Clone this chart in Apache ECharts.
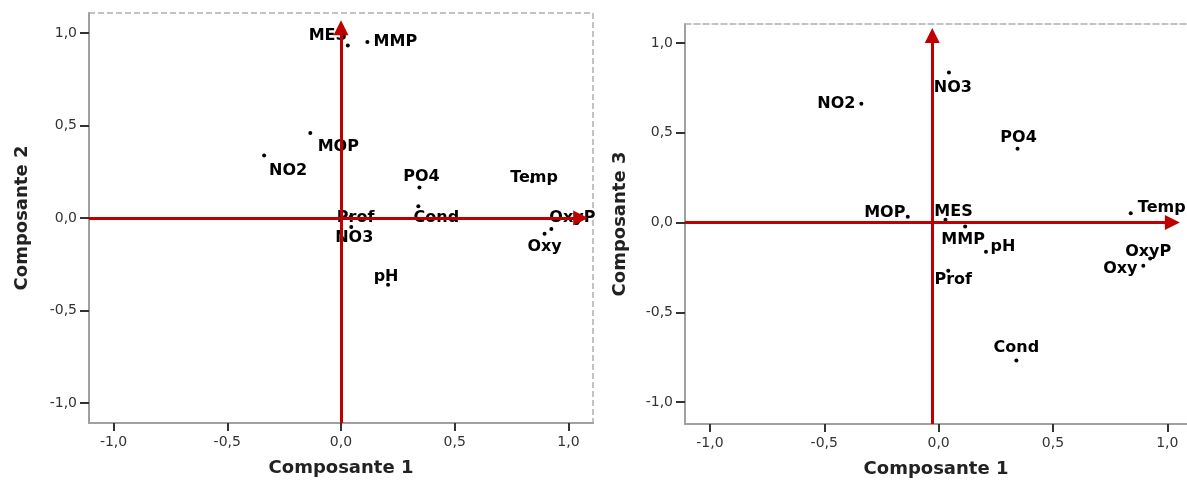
<!DOCTYPE html>
<html lang="fr">
<head>
    <meta charset="UTF-8">
    <title>Diagramme des composantes</title>
    <script src="https://cdn.jsdelivr.net/npm/echarts@6/dist/echarts.min.js"></script>
    <style type="text/css">
        html, body{
            margin:0;
            padding:0;
            background:#ffffff;
        }
        #main{
            width:1187px;
            height:480px;
        }
    </style>
</head>
<body>
<div id="main"></div>
</body>
<script>

    // variables and loadings on components 1, 2, 3
    var varNames = ['MES', 'MMP', 'MOP', 'NO2', 'PO4', 'Cond', 'Temp', 'OxyP', 'Oxy', 'NO3', 'Prof', 'pH'];
    var comp1 = [0.030, 0.116, -0.135, -0.338, 0.345, 0.340, 0.840, 0.925, 0.895, 0.045, 0.042, 0.207];
    var comp2 = [0.933, 0.951, 0.459, 0.338, 0.165, 0.063, 0.198, -0.059, -0.085, -0.049, 0.005, -0.361];
    var comp3 = [0.015, -0.022, 0.033, 0.662, 0.411, -0.769, 0.052, -0.200, -0.241, 0.836, -0.269, -0.162];

    var tickValues = [-1, -0.5, 0, 0.5, 1];

    // where each label sits relative to its dot (px)
    var labelShift12 = {
        MES: [-20, -10], MMP: [28, 0], MOP: [28, 14], NO2: [24, 15], PO4: [2, -11], Cond: [18, 11],
        Temp: [2, -4], OxyP: [21, -11], Oxy: [0, 13], NO3: [3, 11], Prof: [5, 1], pH: [-2, -8]
    };
    var labelShift13 = {
        MES: [8, -8], MMP: [-2, 13], MOP: [-23, -4], NO2: [-25, 0], PO4: [1, -11], Cond: [0, -13],
        Temp: [31, -5], OxyP: [-2, -7], Oxy: [-23, 3], NO3: [4, 15], Prof: [5, 9], pH: [17, -5]
    };

    var red = '#c00000';
    var frameColor = '#b0b0b0';

    function buildPoints(xs, ys, shifts) {
        var pts = [];
        for (var i = 0; i < varNames.length; i++) {
            pts.push({
                name: varNames[i],
                value: [xs[i], ys[i]],
                label: {offset: shifts[varNames[i]]}
            });
        }
        return pts;
    }

    function fmt(v) {
        return v.toFixed(1).replace('.', ',');
    }

    function xAxisOf(idx, lo, hi) {
        return {
            type: 'value', gridIndex: idx, min: lo, max: hi,
            name: 'Composante 1', nameLocation: 'middle', nameGap: 36,
            nameTextStyle: {fontFamily: 'DejaVu Sans', fontWeight: 'bold', fontSize: 18, color: '#222'},
            axisLine: {show: true, onZero: false, lineStyle: {color: '#a0a0a0', width: 2}},
            axisTick: {show: true, customValues: tickValues, length: 8, lineStyle: {color: '#333', width: 2}},
            axisLabel: {customValues: tickValues, formatter: fmt, margin: 12,
                fontFamily: 'DejaVu Sans', fontSize: 14, color: '#333'},
            splitLine: {show: false}
        };
    }

    function yAxisOf(idx, lo, hi, title, gap) {
        return {
            type: 'value', gridIndex: idx, min: lo, max: hi,
            name: title, nameLocation: 'middle', nameGap: gap, nameRotate: 90,
            nameTextStyle: {fontFamily: 'DejaVu Sans', fontWeight: 'bold', fontSize: 18, color: '#222'},
            axisLine: {show: true, onZero: false, lineStyle: {color: '#a0a0a0', width: 2}},
            axisTick: {show: true, customValues: tickValues, length: 9, lineStyle: {color: '#333', width: 2}},
            axisLabel: {customValues: tickValues, formatter: fmt, margin: 12,
                fontFamily: 'DejaVu Sans', fontSize: 14, color: '#333'},
            splitLine: {show: false}
        };
    }

    // dashed frame edge (top of the right panel, which runs off the page)
    function dashedTop(idx, lo, hi) {
        return {
            type: 'value', gridIndex: idx, min: lo, max: hi, position: 'top',
            axisLine: {show: true, onZero: false, lineStyle: {color: frameColor, width: 1.5, type: 'dashed'}},
            axisTick: {show: false}, axisLabel: {show: false}, splitLine: {show: false}
        };
    }

    function scatterOf(idx, pts) {
        return {
            type: 'scatter', xAxisIndex: idx, yAxisIndex: idx,
            symbol: 'circle', symbolSize: 4,
            itemStyle: {color: '#000', opacity: 1},
            label: {
                show: true, position: 'inside', formatter: '{b}',
                align: 'center', verticalAlign: 'middle', opacity: 1,
                fontFamily: 'DejaVu Sans', fontWeight: 'bold', fontSize: 16, color: '#000'
            },
            emphasis: {disabled: true},
            data: pts,
            z: 2
        };
    }

    // red reference arrows along the zero lines
    function arrowsOf(idx, xLeft, xTip, yBottom, yTip, xZero) {
        return {
            type: 'line', xAxisIndex: idx, yAxisIndex: idx, data: [], z: 10, silent: true,
            markLine: {
                silent: true, animation: false,
                symbol: ['none', 'triangle'], symbolSize: [15, 15],
                label: {show: false},
                lineStyle: {color: red, width: 3, type: 'solid', opacity: 1},
                emphasis: {disabled: true},
                data: [
                    [{coord: [xLeft, 0]}, {coord: [xTip, 0]}],
                    [{coord: [xZero, yBottom]}, {coord: [xZero, yTip]}]
                ]
            }
        };
    }

    var chart = echarts.init(document.getElementById('main'));

    var option = {
        animation: false,
        backgroundColor: '#ffffff',
        grid: [
            {left: 89, top: 13, width: 504, height: 410, show: true, outerBoundsMode: 'none', containLabel: false,
                borderColor: frameColor, borderWidth: 1.5, borderType: 'dashed', backgroundColor: 'transparent'},
            {left: 685, top: 24, width: 502, height: 400, show: false, outerBoundsMode: 'none', containLabel: false}
        ],
        xAxis: [xAxisOf(0, -1.108, 1.108), xAxisOf(1, -1.109, 1.086), dashedTop(1, -1.109, 1.086)],
        yAxis: [yAxisOf(0, -1.108, 1.108, 'Composante 2', 58), yAxisOf(1, -1.122, 1.106, 'Composante 3', 56)],
        series: [
            scatterOf(0, buildPoints(comp1, comp2, labelShift12)),
            scatterOf(1, buildPoints(comp1, comp3, labelShift13)),
            arrowsOf(0, -1.108, 1.054, -1.108, 1.028, 0),
            arrowsOf(1, -1.109, 1.022, -1.122, 1.042, -0.028)
        ]
    };

    chart.setOption(option);

</script>
</html>
